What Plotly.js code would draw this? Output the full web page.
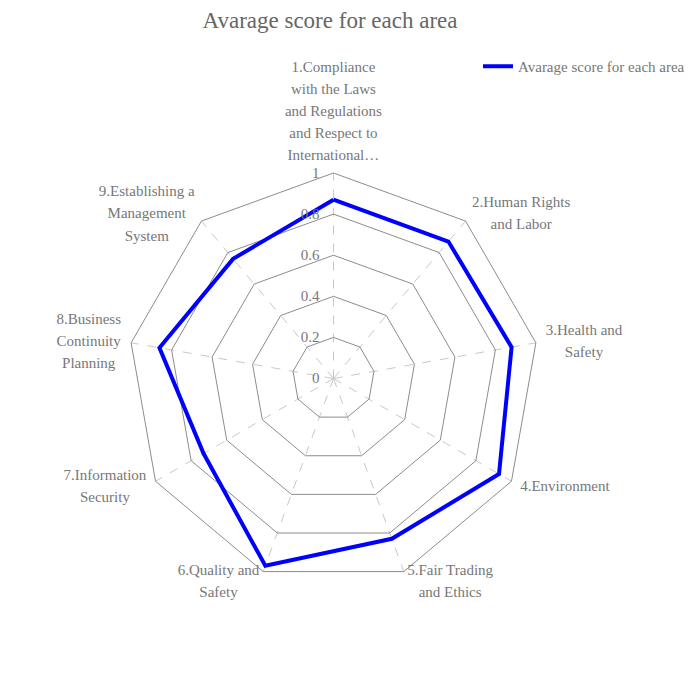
<!DOCTYPE html>
<html>
<head>
<meta charset="utf-8">
<script src="https://cdn.plot.ly/plotly-3.0.1.min.js"></script>
<style>html,body{margin:0;padding:0;background:#fff;}</style>
</head>
<body>
<div id="chart" style="width:700px;height:692px;"></div>
<script>
const categoryLines = [
  ["1.Compliance", "with the Laws", "and Regulations", "and Respect to", "International…"],
  ["2.Human Rights", "and Labor"],
  ["3.Health and", "Safety"],
  ["4.Environment"],
  ["5.Fair Trading", "and Ethics"],
  ["6.Quality and", "Safety"],
  ["7.Information", "Security"],
  ["8.Business", "Continuity", "Planning"],
  ["9.Establishing a", "Management", "System"]
];
const scores = [0.87, 0.87, 0.88, 0.93, 0.83, 0.97, 0.73, 0.86, 0.76];
const radialTicks = [0, 0.2, 0.4, 0.6, 0.8, 1];
const seriesName = "Avarage score for each area";
const chartTitle = "Avarage score for each area";

const FONT = "Liberation Serif, Times New Roman, serif";

// wrap each line in a 15px span; the 17px tick font gives the wider line spacing
const categories = categoryLines.map(ls =>
  ls.map(s => '<span style="font-size:15px">' + s + '</span>').join('<br>'));

const trace = {
  type: "scatterpolar",
  mode: "lines",
  name: seriesName,
  r: scores.concat([scores[0]]),
  theta: categories.concat([categories[0]]),
  line: {color: "#0000ff", width: 4},
  showlegend: true
};

const layout = {
  width: 700,
  height: 692,
  paper_bgcolor: "#fff",
  font: {family: FONT, size: 15, color: "#777"},
  margin: {l: 128, r: 161, t: 173, b: 108, autoexpand: false},
  title: {
    text: chartTitle,
    font: {family: FONT, size: 23, color: "#666"},
    xref: "container", x: 330/700, xanchor: "center",
    yref: "container", y: 1 - 20/692, yanchor: "middle"
  },
  showlegend: true,
  legend: {
    xref: "container", x: 478/700, xanchor: "left",
    yref: "container", y: 1 - 50/692, yanchor: "top",
    font: {family: FONT, size: 15, color: "#777"},
    bgcolor: "rgba(0,0,0,0)"
  },
  polar: {
    bgcolor: "#fff",
    gridshape: "linear",
    radialaxis: {
      range: [0, 1],
      tickvals: radialTicks,
      ticktext: radialTicks.map(v => String(v) + "\u00a0\u00a0\u00a0"),
      angle: 90,
      side: "counterclockwise",
      showline: false,
      ticks: "",
      gridcolor: "#8c8c8c",
      gridwidth: 1,
      tickfont: {family: FONT, size: 15, color: "#777"},
      tickangle: 90
    },
    angularaxis: {
      rotation: 90,
      direction: "clockwise",
      showline: true,
      linecolor: "#8c8c8c",
      linewidth: 1,
      gridcolor: "#c8c8c8",
      griddash: "dash",
      gridwidth: 1,
      ticks: "",
      tickfont: {family: FONT, size: 17, color: "#777"}
    }
  }
};

Plotly.newPlot("chart", [trace], layout, {displayModeBar: false, staticPlot: true}).then(gd => {
  const GAP = 10;
  const sz = gd._fullLayout._size;
  const cx = sz.l + sz.w / 2, cy = sz.t + sz.h / 2, R = Math.min(sz.w, sz.h) / 2;
  const gdRect = gd.getBoundingClientRect();
  const keys = categoryLines.map(ls => ls.join(""));
  gd.querySelectorAll(".angularaxistick text").forEach(t => {
    // centre the lines of each multi-line category label within its block
    const lines = Array.from(t.querySelectorAll("tspan.line"));
    if (lines.length > 1) {
      const anchor = t.getAttribute("text-anchor");
      const widths = lines.map(l => l.getComputedTextLength());
      const W = Math.max.apply(null, widths);
      lines.forEach((l, i) => {
        const d = (W - widths[i]) / 2;
        const dx = anchor === "start" ? d : anchor === "end" ? -d : 0;
        l.setAttribute("x", (parseFloat(l.getAttribute("x")) || 0) + dx);
      });
    }
    // place the label block next to its vertex (radar-style name placement)
    const idx = keys.indexOf(t.textContent);
    if (idx < 0) return;
    const th = idx * 2 * Math.PI / categoryLines.length;
    const s = Math.sin(th), c = Math.cos(th);
    const px = cx + (R + GAP) * s, py = cy - (R + GAP) * c;
    const r = t.getBoundingClientRect();
    const left = r.left - gdRect.left, right = r.right - gdRect.left;
    const top = r.top - gdRect.top, bottom = r.bottom - gdRect.top;
    let dx, dy;
    if (Math.abs(s) < 0.01) {
      dx = px - (left + right) / 2;
      dy = c > 0 ? py - bottom : py - top;
    } else {
      dx = s > 0 ? px - left : px - right;
      dy = py - (top + bottom) / 2;
    }
    const tr = t.getAttribute("transform") || "";
    t.setAttribute("transform", "translate(" + dx + "," + dy + ") " + tr);
  });
});
</script>
</body>
</html>
